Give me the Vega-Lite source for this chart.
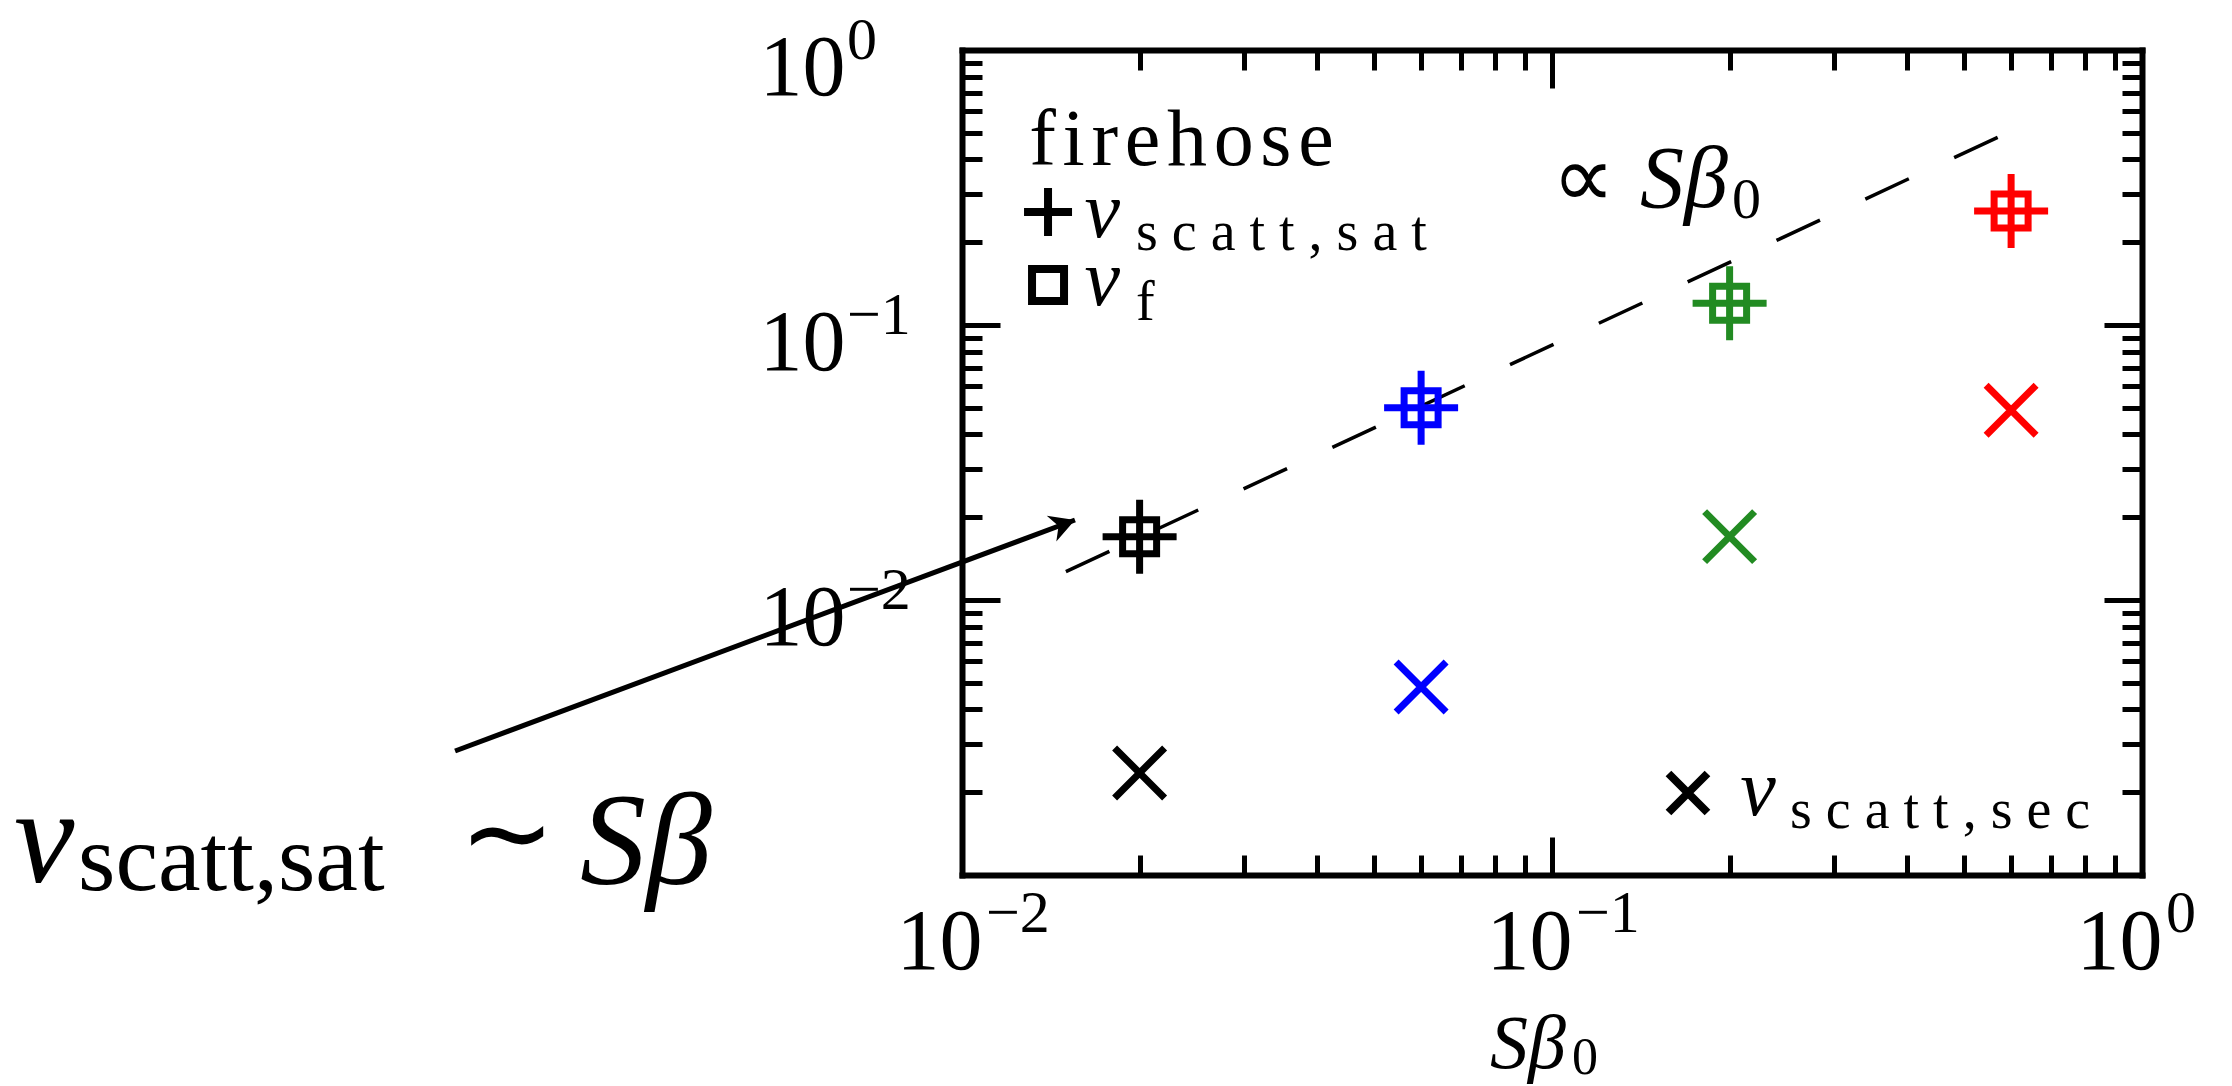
{
  "$schema": "https://vega.github.io/schema/vega-lite/v6.json",
  "autosize": {"type": "none"},
  "width": 1180,
  "height": 825,
  "padding": {"left": 962, "top": 50, "right": 90, "bottom": 211},
  "background": "white",
  "config": {
    "font": "Liberation Serif",
    "view": {"stroke": null},
    "axis": {"grid": false, "domain": false, "domainColor": "black", "domainWidth": 6, "domainCap": "square", "tickColor": "black", "tickWidth": 5, "labelColor": "black", "labelFont": "Liberation Serif", "title": null}
  },
  "datasets": {
    "runs": [
      {"run": "0.02", "sb": 0.02, "nu_sat": 0.017, "nu_f": 0.017, "nu_sec": 0.00235},
      {"run": "0.06", "sb": 0.06, "nu_sat": 0.05, "nu_f": 0.05, "nu_sec": 0.00483},
      {"run": "0.2", "sb": 0.2, "nu_sat": 0.12, "nu_f": 0.12, "nu_sec": 0.017},
      {"run": "0.6", "sb": 0.6, "nu_sat": 0.26, "nu_f": 0.26, "nu_sec": 0.049}
    ],
    "fit": [
      {"sb": 0.015, "nu": 0.01268},
      {"sb": 0.57, "nu": 0.4817}
    ],
    "decades": [
      {"v": 0.01, "e": "−2"},
      {"v": 0.1, "e": "−1"},
      {"v": 1, "e": "0"}
    ],
    "arrow": [
      {"x": 0.001383, "y": 0.002825, "x2": 0.01554, "y2": 0.01954}
    ],
    "one": [{}]
  },
  "resolve": {"axis": {"x": "independent", "y": "independent"}},
  "layer": [
    {
      "data": {"name": "fit"},
      "mark": {"type": "line", "color": "black", "strokeWidth": 3.5, "strokeDash": [48, 50]},
      "encoding": {
        "x": {"field": "sb", "type": "quantitative", "scale": {"type": "log", "domain": [0.01, 1]},
              "axis": {"orient": "top", "values": [0.02, 0.03, 0.04, 0.05, 0.06, 0.07, 0.08, 0.09, 0.2, 0.3, 0.4, 0.5, 0.6, 0.7, 0.8, 0.9], "tickSize": -20, "labels": false}},
        "y": {"field": "nu", "type": "quantitative", "scale": {"type": "log", "domain": [0.001, 1]},
              "axis": {"orient": "right", "values": [0.002, 0.003, 0.004, 0.005, 0.006, 0.007, 0.008, 0.009, 0.02, 0.03, 0.04, 0.05, 0.06, 0.07, 0.08, 0.09, 0.2, 0.3, 0.4, 0.5, 0.6, 0.7, 0.8, 0.9], "tickSize": -20, "labels": false}}
      }
    },
    {
      "data": {"name": "runs"},
      "mark": {"type": "point", "shape": "M-1,0L1,0M0,-1L0,1", "size": 5476, "strokeWidth": 7, "filled": false, "opacity": 1},
      "encoding": {
        "x": {"field": "sb", "type": "quantitative", "scale": {"type": "log", "domain": [0.01, 1]},
              "axis": {"orient": "bottom", "values": [0.01, 0.1, 1], "tickSize": -38, "domain": true, "domainWidth": 6, "domainColor": "black", "labels": true, "labelFontSize": 86, "labelPadding": 131, "labelFlush": false, "labelOverlap": false, "labelAlign": "right", "labelBaseline": "alphabetic", "labelOffset": 20, "labelExpr": "'10'"}},
        "y": {"field": "nu_sat", "type": "quantitative", "scale": {"type": "log", "domain": [0.001, 1]},
              "axis": {"orient": "left", "values": [0.01, 0.1, 1], "tickSize": -38, "domain": true, "domainWidth": 6, "domainColor": "black", "labels": true, "labelFontSize": 86, "labelPadding": 155, "labelFlush": false, "labelOverlap": false, "labelAlign": "right", "labelBaseline": "alphabetic", "labelOffset": 44, "labelExpr": "'10'"}},
        "color": {"field": "run", "type": "nominal", "legend": null,
                  "scale": {"domain": ["0.02", "0.06", "0.2", "0.6"], "range": ["#000000", "#0000ff", "#228b22", "#ff0000"]}}
      }
    },
    {
      "data": {"name": "runs"},
      "mark": {"type": "point", "shape": "square", "size": 1156, "strokeWidth": 7, "filled": false, "opacity": 1},
      "encoding": {
        "x": {"field": "sb", "type": "quantitative", "scale": {"type": "log", "domain": [0.01, 1]},
              "axis": {"orient": "bottom", "values": [0.02, 0.03, 0.04, 0.05, 0.06, 0.07, 0.08, 0.09, 0.2, 0.3, 0.4, 0.5, 0.6, 0.7, 0.8, 0.9], "tickSize": -20, "labels": false}},
        "y": {"field": "nu_f", "type": "quantitative", "scale": {"type": "log", "domain": [0.001, 1]},
              "axis": {"orient": "left", "values": [0.002, 0.003, 0.004, 0.005, 0.006, 0.007, 0.008, 0.009, 0.02, 0.03, 0.04, 0.05, 0.06, 0.07, 0.08, 0.09, 0.2, 0.3, 0.4, 0.5, 0.6, 0.7, 0.8, 0.9], "tickSize": -20, "labels": false}},
        "color": {"field": "run", "type": "nominal", "legend": null,
                  "scale": {"domain": ["0.02", "0.06", "0.2", "0.6"], "range": ["#000000", "#0000ff", "#228b22", "#ff0000"]}}
      }
    },
    {
      "data": {"name": "runs"},
      "mark": {"type": "point", "shape": "M-1,-1L1,1M-1,1L1,-1", "size": 2500, "strokeWidth": 7, "filled": false, "opacity": 1},
      "encoding": {
        "x": {"field": "sb", "type": "quantitative", "scale": {"type": "log", "domain": [0.01, 1]},
              "axis": {"orient": "top", "values": [0.1], "tickSize": -38, "domain": true, "domainWidth": 6, "domainColor": "black", "labels": false}},
        "y": {"field": "nu_sec", "type": "quantitative", "scale": {"type": "log", "domain": [0.001, 1]},
              "axis": {"orient": "right", "values": [0.01, 0.1], "tickSize": -38, "domain": true, "domainWidth": 6, "domainColor": "black", "labels": false}},
        "color": {"field": "run", "type": "nominal", "legend": null,
                  "scale": {"domain": ["0.02", "0.06", "0.2", "0.6"], "range": ["#000000", "#0000ff", "#228b22", "#ff0000"]}}
      }
    },
    {
      "data": {"name": "decades"},
      "mark": {"type": "text", "fontSize": 60, "align": "left", "baseline": "alphabetic", "dx": 24, "dy": 57, "color": "black"},
      "encoding": {
        "text": {"field": "e"},
        "x": {"field": "v", "type": "quantitative", "scale": {"type": "log", "domain": [0.01, 1]}, "axis": null},
        "y": {"datum": 0.001, "type": "quantitative", "scale": {"type": "log", "domain": [0.001, 1]}, "axis": null}
      }
    },
    {
      "data": {"name": "decades"},
      "mark": {"type": "text", "fontSize": 60, "align": "left", "baseline": "alphabetic", "dx": -115, "dy": 9, "color": "black"},
      "encoding": {
        "text": {"field": "e"},
        "x": {"datum": 0.01, "type": "quantitative", "scale": {"type": "log", "domain": [0.01, 1]}, "axis": null},
        "y": {"field": "v", "type": "quantitative", "scale": {"type": "log", "domain": [0.001, 1]}, "axis": null}
      }
    },
    {
      "data": {"name": "one"},
      "mark": {"type": "text", "text": "f\u200ai\u200ar\u200ae\u200ah\u200ao\u200as\u200ae", "fontSize": 80, "align": "left", "baseline": "alphabetic", "color": "black"},
      "encoding": {
        "x": {"datum": 0.013, "type": "quantitative", "scale": {"type": "log", "domain": [0.01, 1]}, "axis": null},
        "y": {"datum": 0.382, "type": "quantitative", "scale": {"type": "log", "domain": [0.001, 1]}, "axis": null}
      }
    },
    {
      "data": {"name": "one"},
      "mark": {"type": "point", "shape": "M-1,0L1,0M0,-1L0,1", "size": 2304, "strokeWidth": 8, "filled": false, "opacity": 1, "color": "black"},
      "encoding": {
        "x": {"datum": 0.01399, "type": "quantitative", "scale": {"type": "log", "domain": [0.01, 1]}, "axis": null},
        "y": {"datum": 0.2576, "type": "quantitative", "scale": {"type": "log", "domain": [0.001, 1]}, "axis": null}
      }
    },
    {
      "data": {"name": "one"},
      "mark": {"type": "point", "shape": "square", "size": 1024, "strokeWidth": 8, "filled": false, "opacity": 1, "color": "black"},
      "encoding": {
        "x": {"datum": 0.01399, "type": "quantitative", "scale": {"type": "log", "domain": [0.01, 1]}, "axis": null},
        "y": {"datum": 0.1398, "type": "quantitative", "scale": {"type": "log", "domain": [0.001, 1]}, "axis": null}
      }
    },
    {
      "data": {"name": "one"},
      "mark": {"type": "text", "text": "ν", "fontSize": 80, "fontStyle": "italic", "align": "left", "baseline": "alphabetic", "color": "black"},
      "encoding": {
        "x": {"datum": 0.01613, "type": "quantitative", "scale": {"type": "log", "domain": [0.01, 1]}, "axis": null},
        "y": {"datum": 0.2089, "type": "quantitative", "scale": {"type": "log", "domain": [0.001, 1]}, "axis": null}
      }
    },
    {
      "data": {"name": "one"},
      "mark": {"type": "text", "text": "s c a t t , s a t", "fontSize": 56, "align": "left", "baseline": "alphabetic", "color": "black"},
      "encoding": {
        "x": {"datum": 0.01972, "type": "quantitative", "scale": {"type": "log", "domain": [0.01, 1]}, "axis": null},
        "y": {"datum": 0.1874, "type": "quantitative", "scale": {"type": "log", "domain": [0.001, 1]}, "axis": null}
      }
    },
    {
      "data": {"name": "one"},
      "mark": {"type": "text", "text": "ν", "fontSize": 80, "fontStyle": "italic", "align": "left", "baseline": "alphabetic", "color": "black"},
      "encoding": {
        "x": {"datum": 0.01613, "type": "quantitative", "scale": {"type": "log", "domain": [0.01, 1]}, "axis": null},
        "y": {"datum": 0.1182, "type": "quantitative", "scale": {"type": "log", "domain": [0.001, 1]}, "axis": null}
      }
    },
    {
      "data": {"name": "one"},
      "mark": {"type": "text", "text": "f", "fontSize": 56, "align": "left", "baseline": "alphabetic", "color": "black"},
      "encoding": {
        "x": {"datum": 0.01972, "type": "quantitative", "scale": {"type": "log", "domain": [0.01, 1]}, "axis": null},
        "y": {"datum": 0.1043, "type": "quantitative", "scale": {"type": "log", "domain": [0.001, 1]}, "axis": null}
      }
    },
    {
      "data": {"name": "one"},
      "mark": {"type": "point", "shape": "M-1,-1L1,1M-1,1L1,-1", "size": 1521, "strokeWidth": 8, "filled": false, "opacity": 1, "color": "black"},
      "encoding": {
        "x": {"datum": 0.17, "type": "quantitative", "scale": {"type": "log", "domain": [0.01, 1]}, "axis": null},
        "y": {"datum": 0.001987, "type": "quantitative", "scale": {"type": "log", "domain": [0.001, 1]}, "axis": null}
      }
    },
    {
      "data": {"name": "one"},
      "mark": {"type": "text", "text": "ν", "fontSize": 80, "fontStyle": "italic", "align": "left", "baseline": "alphabetic", "color": "black"},
      "encoding": {
        "x": {"datum": 0.2085, "type": "quantitative", "scale": {"type": "log", "domain": [0.01, 1]}, "axis": null},
        "y": {"datum": 0.001652, "type": "quantitative", "scale": {"type": "log", "domain": [0.001, 1]}, "axis": null}
      }
    },
    {
      "data": {"name": "one"},
      "mark": {"type": "text", "text": "s c a t t , s e c", "fontSize": 56, "align": "left", "baseline": "alphabetic", "color": "black"},
      "encoding": {
        "x": {"datum": 0.2532, "type": "quantitative", "scale": {"type": "log", "domain": [0.01, 1]}, "axis": null},
        "y": {"datum": 0.001482, "type": "quantitative", "scale": {"type": "log", "domain": [0.001, 1]}, "axis": null}
      }
    },
    {
      "data": {"name": "one"},
      "mark": {"type": "text", "text": "∝", "fontSize": 88, "align": "left", "baseline": "alphabetic", "color": "black"},
      "encoding": {
        "x": {"datum": 0.1, "type": "quantitative", "scale": {"type": "log", "domain": [0.01, 1]}, "axis": null},
        "y": {"datum": 0.2686, "type": "quantitative", "scale": {"type": "log", "domain": [0.001, 1]}, "axis": null}
      }
    },
    {
      "data": {"name": "one"},
      "mark": {"type": "text", "text": "Sβ", "fontSize": 88, "fontStyle": "italic", "align": "left", "baseline": "alphabetic", "color": "black"},
      "encoding": {
        "x": {"datum": 0.141, "type": "quantitative", "scale": {"type": "log", "domain": [0.01, 1]}, "axis": null},
        "y": {"datum": 0.2686, "type": "quantitative", "scale": {"type": "log", "domain": [0.001, 1]}, "axis": null}
      }
    },
    {
      "data": {"name": "one"},
      "mark": {"type": "text", "text": "0", "fontSize": 58, "align": "left", "baseline": "alphabetic", "color": "black"},
      "encoding": {
        "x": {"datum": 0.2018, "type": "quantitative", "scale": {"type": "log", "domain": [0.01, 1]}, "axis": null},
        "y": {"datum": 0.2449, "type": "quantitative", "scale": {"type": "log", "domain": [0.001, 1]}, "axis": null}
      }
    },
    {
      "data": {"name": "one"},
      "mark": {"type": "text", "text": "Sβ", "fontSize": 76, "fontStyle": "italic", "align": "left", "baseline": "alphabetic", "color": "black"},
      "encoding": {
        "x": {"datum": 0.07849, "type": "quantitative", "scale": {"type": "log", "domain": [0.01, 1]}, "axis": null},
        "y": {"datum": 0.0001987, "type": "quantitative", "scale": {"type": "log", "domain": [0.001, 1]}, "axis": null}
      }
    },
    {
      "data": {"name": "one"},
      "mark": {"type": "text", "text": "0", "fontSize": 52, "align": "left", "baseline": "alphabetic", "color": "black"},
      "encoding": {
        "x": {"datum": 0.1081, "type": "quantitative", "scale": {"type": "log", "domain": [0.01, 1]}, "axis": null},
        "y": {"datum": 0.0001889, "type": "quantitative", "scale": {"type": "log", "domain": [0.001, 1]}, "axis": null}
      }
    },
    {
      "data": {"name": "one"},
      "mark": {"type": "text", "text": "ν", "fontSize": 136, "fontStyle": "italic", "align": "left", "baseline": "alphabetic", "color": "black"},
      "encoding": {
        "x": {"datum": 0.0002473, "type": "quantitative", "scale": {"type": "log", "domain": [0.01, 1]}, "axis": null},
        "y": {"datum": 0.000943, "type": "quantitative", "scale": {"type": "log", "domain": [0.001, 1]}, "axis": null}
      }
    },
    {
      "data": {"name": "one"},
      "mark": {"type": "text", "text": "scatt,sat", "fontSize": 96, "align": "left", "baseline": "alphabetic", "color": "black"},
      "encoding": {
        "x": {"datum": 0.0003175, "type": "quantitative", "scale": {"type": "log", "domain": [0.01, 1]}, "axis": null},
        "y": {"datum": 0.000882, "type": "quantitative", "scale": {"type": "log", "domain": [0.001, 1]}, "axis": null}
      }
    },
    {
      "data": {"name": "one"},
      "mark": {"type": "text", "text": "∼", "fontSize": 115, "align": "left", "baseline": "alphabetic", "color": "black"},
      "encoding": {
        "x": {"datum": 0.001405, "type": "quantitative", "scale": {"type": "log", "domain": [0.01, 1]}, "axis": null},
        "y": {"datum": 0.001025, "type": "quantitative", "scale": {"type": "log", "domain": [0.001, 1]}, "axis": null}
      }
    },
    {
      "data": {"name": "one"},
      "mark": {"type": "text", "text": "Sβ", "fontSize": 132, "fontStyle": "italic", "align": "left", "baseline": "alphabetic", "color": "black"},
      "encoding": {
        "x": {"datum": 0.002252, "type": "quantitative", "scale": {"type": "log", "domain": [0.01, 1]}, "axis": null},
        "y": {"datum": 0.000927, "type": "quantitative", "scale": {"type": "log", "domain": [0.001, 1]}, "axis": null}
      }
    },
    {
      "data": {"name": "arrow"},
      "mark": {"type": "rule", "color": "black", "strokeWidth": 5},
      "encoding": {
        "x": {"field": "x", "type": "quantitative", "scale": {"type": "log", "domain": [0.01, 1]}, "axis": null},
        "y": {"field": "y", "type": "quantitative", "scale": {"type": "log", "domain": [0.001, 1]}, "axis": null},
        "x2": {"field": "x2"},
        "y2": {"field": "y2"}
      }
    },
    {
      "data": {"name": "arrow"},
      "mark": {"type": "point", "shape": "M0,0L-1,-0.55L-0.7,0L-1,0.55Z", "size": 2500, "filled": true, "opacity": 1, "color": "black", "angle": 339.6},
      "encoding": {
        "x": {"field": "x2", "type": "quantitative", "scale": {"type": "log", "domain": [0.01, 1]}, "axis": null},
        "y": {"field": "y2", "type": "quantitative", "scale": {"type": "log", "domain": [0.001, 1]}, "axis": null}
      }
    }
  ]
}
